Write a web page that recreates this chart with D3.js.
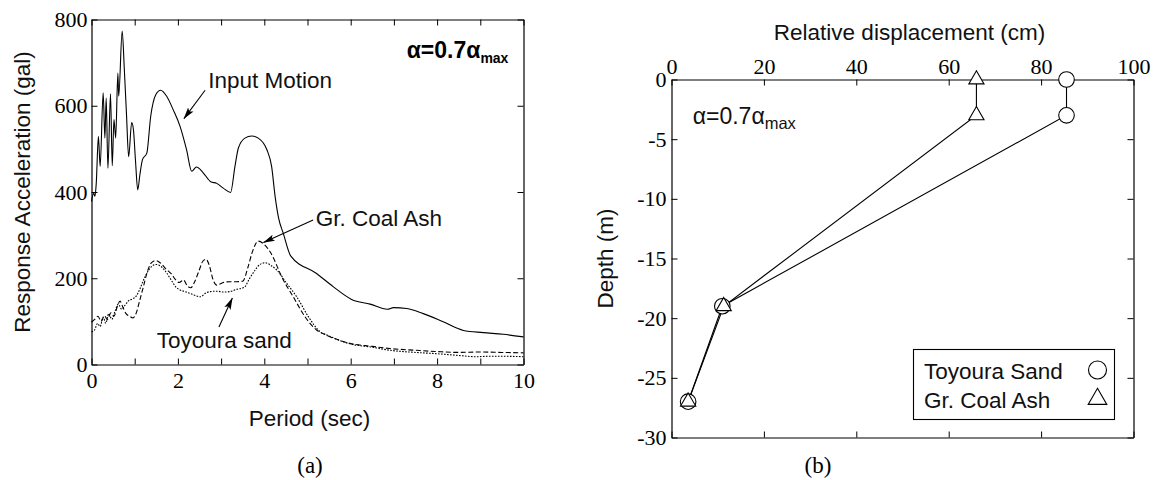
<!DOCTYPE html>
<html><head><meta charset="utf-8">
<script src="https://cdn.jsdelivr.net/npm/d3@7"></script>
<style>
html,body{margin:0;padding:0;background:#fff;}
svg{display:block;}
.tick text{font-family:"Liberation Serif","Times New Roman",Times,serif;}
</style></head><body>
<svg id="fig" width="1156" height="480"></svg>
<script>
// ---- (a) response spectra ----
const periodInput = [0,0.05,0.08,0.11,0.16,0.2,0.27,0.31,0.34,0.38,0.44,0.48,0.52,0.56,0.61,0.63,0.71,0.76,0.81,0.86,0.93,0.97,1.02,1.07,1.12,1.18,1.28,1.37,1.49,1.6,1.74,1.89,2.05,2.2,2.32,2.43,2.59,2.76,2.9,3.05,3.22,3.32,3.4,3.55,3.71,3.86,4.06,4.17,4.25,4.33,4.44,4.61,5.21,5.6,6.02,6.45,6.85,6.99,7.3,7.68,8.14,8.61,9.07,9.53,10];
const accelInput  = [378,397,390,420,529,459,630,525,618,455,628,461,568,525,676,622,773,684,580,482,561,545,470,405,440,475,490,575,626,636,622,591,552,498,448,458,444,424,420,409,399,459,502,525,530,525,498,459,390,340,304,252,211,180,151,140,128,132,130,118,99,79,74,70,64];

const periodAsh = [0,0.08,0.15,0.22,0.3,0.37,0.45,0.52,0.6,0.66,0.73,0.8,0.88,0.96,1.03,1.12,1.2,1.28,1.38,1.49,1.6,1.72,1.85,1.95,2.03,2.13,2.22,2.3,2.38,2.48,2.58,2.65,2.72,2.82,2.9,3.05,3.2,3.35,3.5,3.62,3.72,3.86,3.98,4.13,4.44,4.67,4.94,5.21,5.44,5.98,6.5,6.91,7.5,7.99,8.5,9.0,9.5,10];
const accelAsh  = [98,105,112,100,113,104,120,112,135,147,132,118,112,108,118,150,180,211,235,241,235,222,210,196,190,196,182,178,190,215,240,244,232,195,184,190,192,192,193,225,260,286,280,262,196,157,111,80,68,49,42,37,33,30,28,29,28,27];

const periodSand = [0,0.07,0.14,0.2,0.27,0.33,0.4,0.47,0.55,0.62,0.7,0.78,0.86,0.95,1.03,1.12,1.2,1.3,1.4,1.49,1.6,1.72,1.85,1.95,2.05,2.2,2.35,2.53,2.62,2.74,2.9,3.05,3.2,3.35,3.54,3.65,3.78,3.9,4.02,4.15,4.29,4.52,4.75,5.02,5.29,5.48,5.98,6.5,6.91,7.5,7.99,8.5,8.9,9.2,9.6,10];
const accelSand  = [76,80,95,88,110,96,118,105,125,140,128,138,148,152,158,175,195,215,228,232,228,215,195,180,173,168,162,157,164,169,170,168,169,174,179,198,218,232,236,230,219,188,157,111,76,67,48,40,33,28,25,21,18,19,19,18];

const periodTicks = [0,1,2,3,4,5,6,7,8,9,10];
const accelTicks  = [0,200,400,600,800];

// ---- (b) displacement profile ----
const depth    = [0,-3,-19,-27];
const dispSand = [85.5,85.5,11.0,3.6];
const dispAsh  = [66,66,11.3,3.6];
const dispTicks  = [0,20,40,60,80,100];
const depthTicks = [0,-5,-10,-15,-20,-25,-30];

const SANS = '"Liberation Sans", Arial, Helvetica, sans-serif';
const SERIF = '"Liberation Serif", "Times New Roman", Times, serif';
const TICK_FONT = 22;

const svg = d3.select("#fig");
svg.append("rect").attr("width",1156).attr("height",480).attr("fill","#fff");

const defs = svg.append("defs");
defs.append("marker").attr("id","arrowHead")
  .attr("viewBox","0 -4 12 8").attr("refX",11.5).attr("refY",0)
  .attr("markerUnits","userSpaceOnUse").attr("markerWidth",12).attr("markerHeight",8)
  .attr("orient","auto")
  .append("path").attr("d","M0,-3.4L12,0L0,3.4L2.5,0Z").attr("fill","#000");

function styleAxis(sel, fontSize){
  sel.attr("font-size", fontSize).style("font-family", SERIF);
  sel.select(".domain").attr("stroke","#000").attr("stroke-width",1.2);
  sel.selectAll(".tick line").attr("stroke","#000").attr("stroke-width",1);
  sel.selectAll(".tick text").attr("fill","#000")
    .style("font-family", SERIF).style("font-size", fontSize + "px");
}

// ===== Panel (a) =====
const xA = d3.scaleLinear().domain([0,10]).range([91.5,523.5]);
const yA = d3.scaleLinear().domain([0,800]).range([364.5,19.5]);
const gA = svg.append("g");

gA.append("g").attr("transform",`translate(0,${yA(0)})`)
  .call(d3.axisBottom(xA).tickValues(periodTicks).tickSizeInner(-6).tickSizeOuter(0).tickPadding(8)
    .tickFormat(d => d % 2 === 0 ? String(d) : ""))
  .call(styleAxis, TICK_FONT);
gA.append("g").attr("transform",`translate(0,${yA(800)})`)
  .call(d3.axisTop(xA).tickValues(periodTicks).tickSizeInner(-6).tickSizeOuter(0).tickFormat(""))
  .call(styleAxis, TICK_FONT);
gA.append("g").attr("transform",`translate(${xA(0)},0)`)
  .call(d3.axisLeft(yA).tickValues(accelTicks).tickSizeInner(-6).tickSizeOuter(0).tickPadding(4)
    .tickFormat(d => String(d)))
  .call(styleAxis, TICK_FONT);
gA.append("g").attr("transform",`translate(${xA(10)},0)`)
  .call(d3.axisRight(yA).tickValues(accelTicks).tickSizeInner(-6).tickSizeOuter(0).tickFormat(""))
  .call(styleAxis, TICK_FONT);

const lineA = d3.line().x(d => xA(d[0])).y(d => yA(d[1])).curve(d3.curveMonotoneX);
const seriesA = [
  {p: periodInput, a: accelInput, dash: null},
  {p: periodAsh,   a: accelAsh,   dash: "5,2.5"},
  {p: periodSand,  a: accelSand,  dash: "1.6,1.4"}
];
seriesA.forEach(s => {
  gA.append("path")
    .datum(d3.zip(s.p, s.a))
    .attr("d", lineA)
    .attr("fill","none").attr("stroke","#000").attr("stroke-width",1.1)
    .attr("stroke-dasharray", s.dash);
});

// annotation arrows and labels
const notesA = [
  {text:"Input Motion", tx:2.70, ty:642, from:[2.63,636], to:[2.14,570]},
  {text:"Gr. Coal Ash", tx:5.19, ty:321, from:[5.13,335], to:[3.98,283]},
  {text:"Toyoura sand", tx:1.51, ty:38,  from:[2.95,87],  to:[3.26,154]}
];
notesA.forEach(n => {
  gA.append("line")
    .attr("x1", xA(n.from[0])).attr("y1", yA(n.from[1]))
    .attr("x2", xA(n.to[0])).attr("y2", yA(n.to[1]))
    .attr("stroke","#000").attr("stroke-width",1.1)
    .attr("marker-end","url(#arrowHead)");
  gA.append("text").attr("x", xA(n.tx)).attr("y", yA(n.ty))
    .style("font-family", SANS).attr("font-size", 22.5).attr("fill","#111")
    .text(n.text);
});

const alphaA = gA.append("text").attr("x",406.7).attr("y",57.5)
  .style("font-family", SANS).attr("font-size", 23).attr("font-weight","bold").attr("fill","#000");
alphaA.append("tspan").text("\u03b1=0.7\u03b1");
alphaA.append("tspan").attr("font-size",14).attr("dy",5).text("max");

gA.append("text").attr("transform",`translate(30,${(yA(0)+yA(800))/2}) rotate(-90)`)
  .attr("text-anchor","middle").style("font-family", SANS).attr("font-size", 22.5).attr("fill","#111")
  .text("Response Acceleration (gal)");
gA.append("text").attr("x",(xA(0)+xA(10))/2 + 2).attr("y",426)
  .attr("text-anchor","middle").style("font-family", SANS).attr("font-size", 22.5).attr("fill","#111")
  .text("Period (sec)");
gA.append("text").attr("x",310).attr("y",473)
  .attr("text-anchor","middle").style("font-family", SERIF).attr("font-size", 23).attr("fill","#000")
  .text("(a)");

// ===== Panel (b) =====
const xB = d3.scaleLinear().domain([0,100]).range([671.5,1133.5]);
const yB = d3.scaleLinear().domain([-30,0]).range([437.5,79.5]);
const gB = svg.append("g");

gB.append("g").attr("transform",`translate(0,${yB(0)})`)
  .call(d3.axisTop(xB).tickValues(dispTicks).tickSizeInner(-6).tickSizeOuter(0).tickPadding(6)
    .tickFormat(d => String(d)))
  .call(styleAxis, TICK_FONT);
gB.append("g").attr("transform",`translate(0,${yB(-30)})`)
  .call(d3.axisBottom(xB).tickValues(dispTicks).tickSizeInner(-6).tickSizeOuter(0).tickFormat(""))
  .call(styleAxis, TICK_FONT);
gB.append("g").attr("transform",`translate(${xB(0)},0)`)
  .call(d3.axisLeft(yB).tickValues(depthTicks).tickSizeInner(-6).tickSizeOuter(0).tickPadding(5)
    .tickFormat(d => String(d)))
  .call(styleAxis, TICK_FONT);
gB.append("g").attr("transform",`translate(${xB(100)},0)`)
  .call(d3.axisRight(yB).tickValues(depthTicks).tickSizeInner(-6).tickSizeOuter(0).tickFormat(""))
  .call(styleAxis, TICK_FONT);

const lineB = d3.line().x(d => xB(d[0])).y(d => yB(d[1]));
[dispSand, dispAsh].forEach(v => {
  gB.append("path").datum(d3.zip(v, depth)).attr("d", lineB)
    .attr("fill","none").attr("stroke","#000").attr("stroke-width",1.1);
});
gB.selectAll("circle.sand").data(d3.zip(dispSand, depth)).join("circle")
  .attr("class","sand").attr("cx", d => xB(d[0])).attr("cy", d => yB(d[1])).attr("r",7.8)
  .attr("fill","#fff").attr("stroke","#000").attr("stroke-width",1.1);
const tri = d3.symbol().type(d3.symbolTriangle).size(100);
gB.selectAll("path.ash").data(d3.zip(dispAsh, depth)).join("path")
  .attr("class","ash").attr("d", tri)
  .attr("transform", d => `translate(${xB(d[0])},${yB(d[1])})`)
  .attr("fill","#fff").attr("stroke","#000").attr("stroke-width",1.1);

// legend
const leg = gB.append("g");
leg.append("rect").attr("x",913.5).attr("y",349.5).attr("width",201).attr("height",70)
  .attr("fill","#fff").attr("stroke","#000").attr("stroke-width",1.1);
leg.append("text").attr("x",924).attr("y",379).style("font-family",SANS).attr("font-size",22.5).attr("fill","#111").text("Toyoura Sand");
leg.append("text").attr("x",924).attr("y",408).style("font-family",SANS).attr("font-size",22.5).attr("fill","#111").text("Gr. Coal Ash");
leg.append("circle").attr("cx",1097.5).attr("cy",370).attr("r",9).attr("fill","#fff").attr("stroke","#000").attr("stroke-width",1.1);
leg.append("path").attr("d", d3.symbol().type(d3.symbolTriangle).size(150)())
  .attr("transform","translate(1097.5,399)").attr("fill","#fff").attr("stroke","#000").attr("stroke-width",1.1);

const alphaB = gB.append("text").attr("x",692.7).attr("y",124)
  .style("font-family", SANS).attr("font-size", 23).attr("fill","#111");
alphaB.append("tspan").text("\u03b1=0.7\u03b1");
alphaB.append("tspan").attr("font-size",16.5).attr("dy",5).text("max");

gB.append("text").attr("x",909.5).attr("y",40)
  .attr("text-anchor","middle").style("font-family", SANS).attr("font-size", 22.5).attr("fill","#111")
  .text("Relative displacement (cm)");
gB.append("text").attr("transform",`translate(613,${(yB(0)+yB(-30))/2}) rotate(-90)`)
  .attr("text-anchor","middle").style("font-family", SANS).attr("font-size", 22.5).attr("fill","#111")
  .text("Depth (m)");
gB.append("text").attr("x",818).attr("y",473)
  .attr("text-anchor","middle").style("font-family", SERIF).attr("font-size", 23).attr("fill","#000")
  .text("(b)");
</script></body></html>
